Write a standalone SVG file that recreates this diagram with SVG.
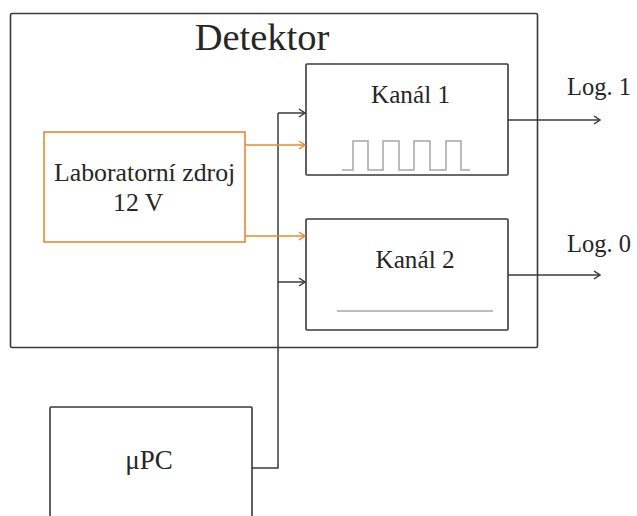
<svg xmlns="http://www.w3.org/2000/svg" width="637" height="516" viewBox="0 0 637 516">
  <defs>
    <style>
      .box { fill: #ffffff; stroke: #3a3a3a; stroke-width: 1.6; }
      .src { fill: none; stroke: #e8892f; stroke-width: 1.6; }
      .lbl { font-family: "Liberation Serif", "Times New Roman", serif; fill: #262626; }
      .wire { fill: none; stroke: #3a3a3a; stroke-width: 1.5; }
      .pwr { fill: none; stroke: #e8892f; stroke-width: 1.5; }
      .sig { fill: none; stroke: #a6a6a6; stroke-width: 1.5; }
    </style>
    <marker id="arrDark" viewBox="0 0 10 10" refX="9" refY="5" markerWidth="10" markerHeight="10" markerUnits="userSpaceOnUse" orient="auto">
      <path d="M3,1 L9,5 L3,9" fill="none" stroke="#3a3a3a" stroke-width="1.5"/>
    </marker>
    <marker id="arrOrange" viewBox="0 0 10 10" refX="9" refY="5" markerWidth="10" markerHeight="10" markerUnits="userSpaceOnUse" orient="auto">
      <path d="M3,1 L9,5 L3,9" fill="none" stroke="#e8892f" stroke-width="1.5"/>
    </marker>
  </defs>

  <rect width="637" height="516" fill="#ffffff"/>

  <g id="detektor">
    <rect class="box" x="10.5" y="13.5" width="527" height="334" rx="1.5" stroke-width="2"/>
    <text class="lbl" x="262" y="50" font-size="38.5" text-anchor="middle">Detektor</text>
  </g>

  <g id="kanal1">
    <rect class="box" x="306" y="64" width="202" height="111" rx="1"/>
    <text class="lbl" x="410.5" y="103" font-size="25.2" text-anchor="middle">Kanál 1</text>
    <path class="sig" d="M342,170 H353 V141 H368 V170 H383 V141 H399 V170 H414 V141 H430 V170 H446 V141 H461 V170 H470"/>
  </g>

  <g id="kanal2">
    <rect class="box" x="306" y="219" width="202" height="111" rx="1"/>
    <text class="lbl" x="415" y="268" font-size="25.2" text-anchor="middle">Kanál 2</text>
    <line class="sig" x1="337" y1="311" x2="493" y2="311"/>
  </g>

  <g id="zdroj">
    <rect class="src" x="44" y="132" width="201" height="110"/>
    <text class="lbl" x="54" y="181" font-size="25.8">Laboratorní zdroj</text>
    <text class="lbl" x="113" y="211" font-size="25.8">12 V</text>
  </g>

  <g id="upc">
    <rect class="box" x="50" y="407" width="202" height="130" rx="1"/>
    <text class="lbl" x="149" y="469" font-size="27" text-anchor="middle">μPC</text>
  </g>

  <g id="connectors">
    <!-- μPC bus up to both channels -->
    <path class="wire" d="M252,468 H278 V113"/>
    <line class="wire" x1="278" y1="113" x2="305" y2="113" marker-end="url(#arrDark)"/>
    <line class="wire" x1="278" y1="282" x2="305" y2="282" marker-end="url(#arrDark)"/>
    <!-- 12 V supply -->
    <line class="pwr" x1="245" y1="145" x2="305" y2="145" marker-end="url(#arrOrange)"/>
    <line class="pwr" x1="245" y1="236" x2="305" y2="236" marker-end="url(#arrOrange)"/>
    <!-- outputs -->
    <line class="wire" x1="508" y1="120" x2="600" y2="120" marker-end="url(#arrDark)"/>
    <line class="wire" x1="508" y1="275" x2="600" y2="275" marker-end="url(#arrDark)"/>
    <text class="lbl" x="567" y="95" font-size="24.5">Log. 1</text>
    <text class="lbl" x="567" y="252" font-size="24.5">Log. 0</text>
  </g>
</svg>
